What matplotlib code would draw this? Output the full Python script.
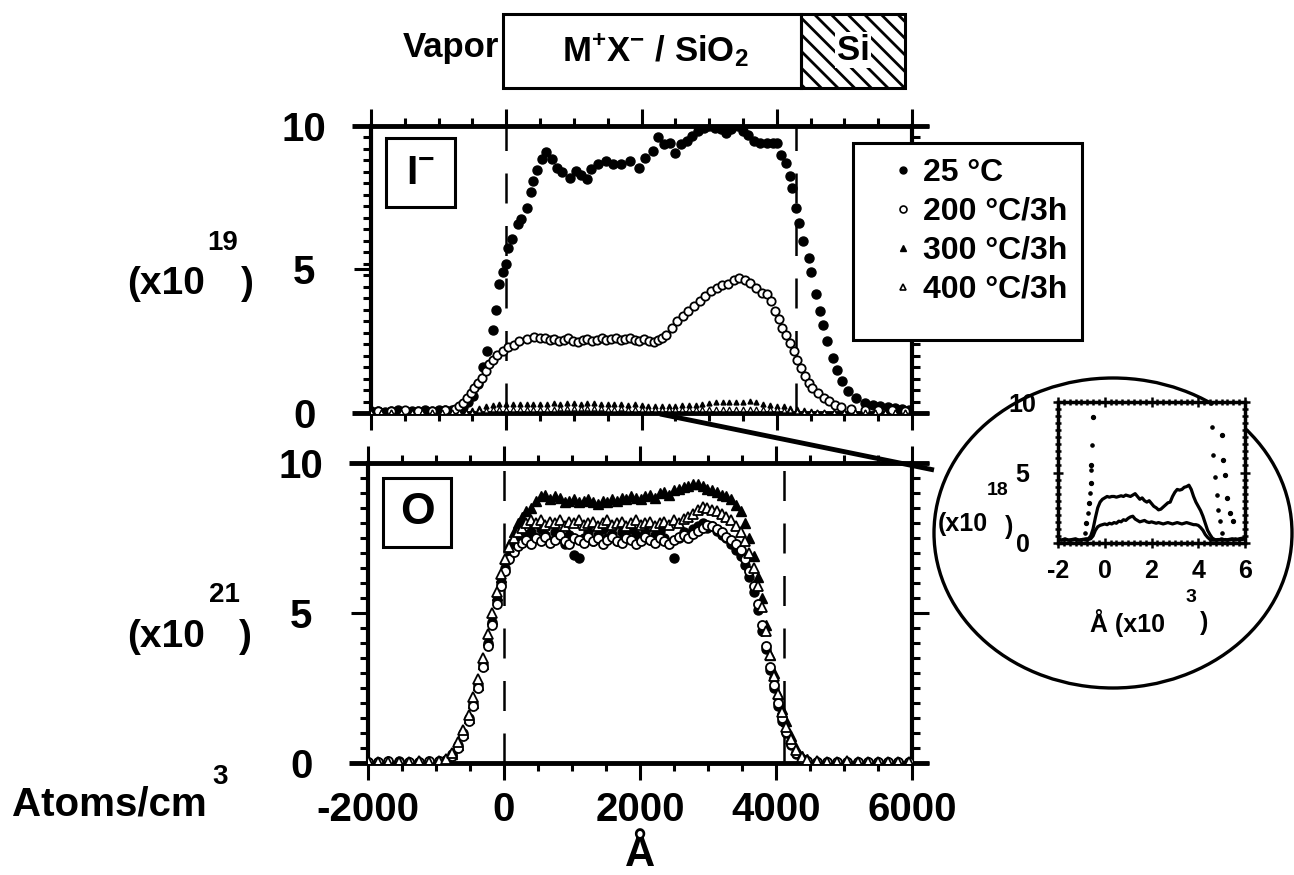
import numpy as np
import matplotlib.pyplot as plt
from matplotlib.patches import Rectangle, Ellipse
from matplotlib.lines import Line2D
from matplotlib.ticker import MultipleLocator

W, H = 1294, 875
plt.rcParams['font.family'] = ['Liberation Sans', 'DejaVu Sans']
plt.rcParams['font.weight'] = 'bold'
plt.rcParams['axes.unicode_minus'] = False
plt.rcParams['mathtext.fontset'] = 'custom'
plt.rcParams['mathtext.rm'] = 'Liberation Sans:bold'
plt.rcParams['mathtext.bf'] = 'Liberation Sans:bold'
plt.rcParams['mathtext.it'] = 'Liberation Sans:bold'
plt.rcParams['hatch.linewidth'] = 2.0

# ---- iodine profile (x10^19 atoms/cm3) vs depth (A) ----
depth_I25 = [-2000, -1900, -1800, -1700, -1600, -1500, -1400, -1300, -1200, -1100,
             -1000, -900, -800, -720, -640, -560, -490, -420, -350, -280,
             -200, -150, -110, -50, 0, 30, 80, 170, 220, 300,
             360, 400, 460, 530, 590, 670, 750, 830, 940, 1030,
             1110, 1190, 1250, 1360, 1470, 1580, 1690, 1830, 1970, 2050,
             2170, 2250, 2330, 2420, 2500, 2580, 2670, 2750, 2830, 2920,
             3000, 3080, 3170, 3250, 3330, 3420, 3500, 3580, 3670, 3750,
             3860, 3940, 4000, 4060, 4140, 4190, 4220, 4280, 4330, 4390,
             4470, 4500, 4580, 4640, 4690, 4750, 4830, 4890, 4970, 5060,
             5170, 5300, 5420, 5530, 5650, 5750, 5850, 5950]
I_25 = [0.06, 0.08, 0.05, 0.07, 0.09, 0.06, 0.08, 0.07, 0.1, 0.08,
        0.09, 0.1, 0.12, 0.16, 0.22, 0.4, 0.6, 1.0, 1.6, 2.15,
        2.9, 3.6, 4.5, 4.9, 5.2, 5.75, 6.05, 6.6, 6.75, 7.15,
        7.7, 8.1, 8.45, 8.85, 9.1, 8.85, 8.55, 8.4, 8.2, 8.43,
        8.3, 8.14, 8.5, 8.66, 8.78, 8.66, 8.66, 8.78, 8.55, 8.9,
        9.13, 9.6, 9.36, 9.4, 9.07, 9.36, 9.48, 9.65, 9.83, 9.94,
        10.0, 9.94, 9.88, 9.77, 9.88, 10.0, 9.83, 9.7, 9.48, 9.42,
        9.42, 9.42, 9.42, 9.0, 8.72, 8.26, 7.85, 7.15, 6.63, 6.0,
        5.4, 4.9, 4.13, 3.55, 3.08, 2.5, 1.92, 1.5, 1.1, 0.76,
        0.52, 0.35, 0.28, 0.23, 0.2, 0.17, 0.15, 0.12]

depth_I200 = [-1900, -1700, -1500, -1300, -1100, -900, -760, -694, -639, -583,
              -528, -472, -417, -361, -306, -250, -194, -139, -55, 28,
              111, 194, 305, 416, 500, 570, 640, 710, 780, 850,
              920, 990, 1060, 1130, 1200, 1270, 1340, 1410, 1480, 1550,
              1620, 1690, 1760, 1830, 1900, 1970, 2040, 2110, 2180, 2250,
              2305, 2361, 2444, 2528, 2611, 2694, 2778, 2861, 2944, 3028,
              3111, 3194, 3278, 3361, 3444, 3528, 3611, 3694, 3778, 3861,
              3917, 3972, 4028, 4083, 4139, 4194, 4250, 4305, 4361, 4417,
              4472, 4528, 4611, 4694, 4778, 4861, 4950, 5100, 5300, 5500,
              5700, 5900]
I_200 = [0.08, 0.06, 0.09, 0.07, 0.08, 0.1, 0.15, 0.23, 0.35, 0.52,
         0.7, 0.87, 1.05, 1.22, 1.45, 1.69, 1.86, 2.03, 2.17, 2.29,
         2.38, 2.5, 2.58, 2.64, 2.62, 2.6, 2.55, 2.58, 2.5, 2.55,
         2.6, 2.52, 2.48, 2.55, 2.58, 2.5, 2.55, 2.6, 2.55, 2.58,
         2.62, 2.55, 2.58, 2.6, 2.55, 2.52, 2.58, 2.5, 2.48, 2.55,
         2.6, 2.73, 2.97, 3.2, 3.37, 3.55, 3.72, 3.9, 4.07, 4.24,
         4.36, 4.45, 4.48, 4.65, 4.71, 4.65, 4.53, 4.36, 4.19, 4.13,
         3.9, 3.55, 3.26, 2.97, 2.73, 2.44, 2.15, 1.86, 1.57, 1.28,
         1.05, 0.87, 0.7, 0.52, 0.41, 0.29, 0.2, 0.15, 0.12, 0.1,
         0.1, 0.08]

# annealed iodine, in x10^18 (shown magnified in the circle)
depth_anneal = [-2000, -1850, -1700, -1550, -1400, -1250, -1100, -950, -800, -700,
                -600, -500, -400, -300, -200, -100, 0, 100, 200, 300,
                400, 500, 600, 700, 800, 900, 1000, 1100, 1200, 1300,
                1400, 1500, 1600, 1700, 1800, 1900, 2000, 2100, 2200, 2300,
                2400, 2500, 2600, 2700, 2800, 2900, 3000, 3100, 3200, 3300,
                3400, 3500, 3600, 3700, 3800, 3900, 4000, 4100, 4200, 4300,
                4400, 4500, 4600, 4700, 4850, 5000, 5150, 5300, 5450, 5600,
                5750, 5900]
I_300 = [0.3, 0.2, 0.3, 0.2, 0.25, 0.3, 0.2, 0.25, 0.3, 0.3,
         0.5, 1.0, 1.8, 2.5, 2.9, 3.1, 3.2, 3.3, 3.25, 3.3,
         3.3, 3.25, 3.3, 3.35, 3.3, 3.4, 3.35, 3.3, 3.4, 3.5,
         3.3, 3.1, 3.2, 3.0, 2.9, 3.0, 2.8, 2.6, 2.5, 2.35,
         2.4, 2.55, 2.7, 2.85, 2.9, 3.3, 3.6, 3.8, 3.75, 3.8,
         3.95, 4.0, 4.1, 3.8, 3.3, 2.9, 2.6, 2.3, 1.9, 1.4,
         0.9, 0.6, 0.35, 0.25, 0.2, 0.3, 0.2, 0.25, 0.3, 0.2,
         0.3, 0.35]
I_400 = [0.25, 0.2, 0.25, 0.2, 0.2, 0.25, 0.2, 0.25, 0.2, 0.25,
         0.3, 0.5, 0.9, 1.15, 1.25, 1.3, 1.35, 1.3, 1.4, 1.35,
         1.45, 1.4, 1.55, 1.5, 1.65, 1.6, 1.75, 1.85, 1.9, 1.7,
         1.6, 1.5, 1.55, 1.6, 1.5, 1.45, 1.5, 1.45, 1.4, 1.45,
         1.4, 1.35, 1.4, 1.45, 1.4, 1.35, 1.4, 1.45, 1.4, 1.35,
         1.4, 1.45, 1.4, 1.35, 1.3, 1.3, 1.25, 1.1, 0.9, 0.6,
         0.4, 0.25, 0.2, 0.2, 0.25, 0.2, 0.25, 0.2, 0.25, 0.3,
         0.2, 0.25]

# tails of the unannealed / 200 C profiles inside the magnified view (x10^3 A, x10^18)
tail25_x = [-0.5, -0.57, -0.6, -0.67, -0.79, 5.0, 5.07, 5.14, 5.21, 5.36, 5.5]
tail25_y = [8.94, 5.53, 4.24, 2.82, 1.41, 7.65, 5.88, 4.82, 3.18, 2.12, 1.53]
tail200_x = [-0.54, -0.57, -0.64, -0.71, -0.86, 4.54, 4.57, 4.64, 4.71, 4.79, 4.86, 4.93, 5.0]
tail200_y = [6.94, 5.18, 3.53, 2.12, 0.7, 9.9, 8.24, 6.24, 4.71, 3.41, 2.35, 1.53, 0.7]

# ---- oxygen profile (x10^21 atoms/cm3) ----
depth_O = [-2000, -1850, -1700, -1550, -1400, -1250, -1100, -950, -850, -760,
           -680, -600, -520, -450, -380, -310, -240, -170, -100, -40,
           20, 80, 140, 200, 260, 330, 400, 470, 540, 610,
           680, 750, 820, 890, 960, 1030, 1100, 1170, 1240, 1310,
           1380, 1450, 1520, 1590, 1660, 1730, 1800, 1870, 1940, 2010,
           2080, 2150, 2220, 2290, 2360, 2430, 2500, 2570, 2640, 2710,
           2780, 2850, 2920, 2990, 3060, 3130, 3200, 3270, 3340, 3410,
           3480, 3550, 3610, 3670, 3730, 3790, 3850, 3910, 3970, 4030,
           4090, 4150, 4220, 4300, 4380, 4450, 4600, 4750, 4900, 5050,
           5200, 5350, 5500, 5650, 5800, 5950]
O_25 = [0.05, 0.04, 0.05, 0.06, 0.04, 0.05, 0.05, 0.07, 0.1, 0.3,
        0.6, 1.0, 1.5, 2.0, 2.6, 3.3, 4.0, 4.7, 5.4, 6.0,
        6.5, 6.9, 7.2, 7.4, 7.55, 7.6, 7.7, 7.5, 7.8, 7.6,
        7.4, 7.7, 7.5, 7.3, 7.6, 6.95, 6.85, 7.5, 7.7, 7.4,
        7.6, 7.8, 7.5, 7.65, 7.4, 7.7, 7.55, 7.8, 7.6, 7.5,
        7.7, 7.45, 7.6, 7.75, 7.5, 7.35, 6.85, 7.5, 7.7, 7.6,
        7.8, 7.9, 8.0, 7.85, 7.9, 7.75, 7.6, 7.5, 7.3, 7.1,
        6.9, 6.6, 6.2, 5.7, 5.1, 4.4, 3.8, 3.1, 2.5, 1.9,
        1.4, 1.0, 0.6, 0.3, 0.15, 0.08, 0.05, 0.04, 0.05, 0.05,
        0.04, 0.05, 0.04, 0.05, 0.04, 0.05]
O_200 = [0.05, 0.04, 0.06, 0.05, 0.05, 0.04, 0.06, 0.06, 0.1, 0.25,
         0.5, 0.9, 1.4, 1.9, 2.5, 3.2, 3.9, 4.6, 5.3, 5.9,
         6.4, 6.8, 7.05, 7.25, 7.35, 7.45, 7.3, 7.5, 7.4, 7.55,
         7.35, 7.45, 7.6, 7.4, 7.3, 7.5, 7.45, 7.35, 7.55, 7.4,
         7.5, 7.3, 7.45, 7.55, 7.4, 7.35, 7.5, 7.45, 7.3, 7.4,
         7.55, 7.45, 7.35, 7.5, 7.4, 7.3, 7.45, 7.55, 7.6, 7.5,
         7.65, 7.75, 7.85, 7.95, 7.9, 7.8, 7.7, 7.55, 7.45, 7.3,
         7.1, 6.8, 6.4, 5.9, 5.3, 4.6, 3.9, 3.2, 2.6, 2.0,
         1.5, 1.05, 0.65, 0.35, 0.15, 0.08, 0.05, 0.04, 0.05, 0.04,
         0.05, 0.04, 0.05, 0.04, 0.05, 0.04]
O_300 = [0.05, 0.03, 0.06, 0.04, 0.05, 0.06, 0.05, 0.08, 0.1, 0.3,
         0.6, 1.0, 1.5, 2.0, 2.6, 3.3, 4.1, 4.8, 5.6, 6.2,
         6.8, 7.3, 7.7, 8.0, 8.2, 8.4, 8.5, 8.75, 8.9, 8.95,
         8.8, 8.9, 8.85, 8.7, 8.75, 8.8, 8.7, 8.75, 8.8, 8.7,
         8.65, 8.75, 8.7, 8.8, 8.75, 8.85, 8.8, 8.9, 8.85, 8.8,
         8.9, 8.95, 8.85, 9.0, 9.05, 8.95, 9.1, 9.15, 9.2, 9.25,
         9.3, 9.3, 9.25, 9.15, 9.1, 9.05, 8.95, 8.9, 8.8, 8.6,
         8.4, 8.0, 7.5, 6.9, 6.2, 5.5, 4.6, 3.6, 3.0, 2.3,
         1.8, 1.4, 0.9, 0.5, 0.25, 0.12, 0.06, 0.05, 0.04, 0.05,
         0.04, 0.05, 0.03, 0.05, 0.04, 0.05]
O_400 = [0.06, 0.04, 0.05, 0.05, 0.04, 0.06, 0.05, 0.07, 0.12, 0.35,
         0.7, 1.1, 1.6, 2.2, 2.8, 3.5, 4.3, 5.0, 5.7, 6.3,
         6.8, 7.2, 7.5, 7.7, 7.85, 8.0, 8.1, 8.0, 8.1, 7.95,
         8.05, 8.0, 8.1, 7.9, 8.05, 8.0, 8.1, 7.95, 8.0, 8.05,
         7.9, 8.0, 8.1, 7.95, 8.0, 8.05, 7.9, 8.0, 8.1, 7.95,
         8.0, 8.05, 7.9, 8.0, 8.05, 7.95, 8.1, 8.0, 8.15, 8.2,
         8.3, 8.45, 8.55, 8.5, 8.45, 8.4, 8.3, 8.2, 8.1, 7.9,
         7.7, 7.4, 7.0, 6.5, 5.9, 5.2, 4.4, 3.6, 2.9, 2.3,
         1.7, 1.2, 0.8, 0.45, 0.2, 0.1, 0.06, 0.05, 0.04, 0.06,
         0.05, 0.04, 0.05, 0.04, 0.05, 0.04]

labels = ['25 °C', '200 °C/3h', '300 °C/3h', '400 °C/3h']
interfaces_I = [0, 4280]
interfaces_O = [0, 4120]


def box(x0, y0, x1, y1):
    # pixel box (top-left origin) -> figure fraction rect
    return [x0 / W, 1 - y1 / H, (x1 - x0) / W, (y1 - y0) / H]


def fx(x):
    return x / W


def fy(y):
    return 1 - y / H


fig = plt.figure(figsize=(W / 100, H / 100), dpi=100)


def style(ax, yminor):
    ax.set_xlim(-2000, 6000)
    ax.set_ylim(0, 10)
    ax.spines['top'].set_visible(False)
    ax.spines['bottom'].set_visible(False)
    ax.spines['left'].set_linewidth(3)
    ax.spines['right'].set_linewidth(3)
    for yv in (0, 10):
        ax.plot([-2280, 6250], [yv, yv], color='k', lw=3.5, clip_on=False,
                solid_capstyle='butt', zorder=3)
    ax.xaxis.set_major_locator(MultipleLocator(2000))
    ax.xaxis.set_minor_locator(MultipleLocator(500))
    ax.set_yticks([0, 5, 10])
    ax.set_yticklabels(['0', '5', '10'], ha='center')
    ax.yaxis.set_minor_locator(MultipleLocator(yminor))
    ax.tick_params(which='both', direction='out', top=True, right=True, width=2.2)
    ax.tick_params(which='major', length=12)
    ax.tick_params(which='minor', length=6)
    ax.tick_params(axis='y', labelsize=29, pad=36)
    ax.tick_params(axis='x', labelsize=29, pad=8)


# ---- top panel: iodine ----
ax1 = fig.add_axes(box(371, 126, 912, 413))
style(ax1, 0.4)
ax1.tick_params(labelbottom=False)
for xv in interfaces_I:
    ax1.plot([xv, xv], [0, 10], color='k', lw=1.8, ls=(0, (12, 9)), zorder=1)
ax1.plot(depth_I25, I_25, 'o', color='k', ms=6.5, zorder=4)
ax1.plot(depth_I200, I_200, 'o', mfc='white', mec='k', mew=1.3, ms=6, zorder=4)
ax1.plot(depth_anneal, np.array(I_300) / 10, '^', color='k', ms=3.5, zorder=4)
ax1.plot(depth_anneal, np.array(I_400) / 10, '^', mfc='white', mec='k', mew=0.9,
         ms=3.5, zorder=4)

# panel tag
ax1.add_patch(Rectangle((fx(386), fy(207)), (455 - 386) / W, (207 - 138) / H,
                        transform=fig.transFigure, fill=False, lw=2.2, clip_on=False))
ax1.text(fx(420), fy(173), 'I$^{-}$', transform=fig.transFigure, fontsize=29,
         ha='center', va='center')

# legend
ax1.add_patch(Rectangle((fx(853), fy(340)), (1082 - 853) / W, (340 - 143) / H,
                        transform=fig.transFigure, facecolor='white', edgecolor='k',
                        lw=2.2, clip_on=False, zorder=4))
handles = [Line2D([], [], ls='none', marker='o', color='k', ms=5),
           Line2D([], [], ls='none', marker='o', mfc='white', mec='k', mew=1.2, ms=5),
           Line2D([], [], ls='none', marker='^', color='k', ms=5),
           Line2D([], [], ls='none', marker='^', mfc='white', mec='k', mew=1.2, ms=5)]
leg = ax1.legend(handles, labels, loc='upper left', bbox_to_anchor=(fx(893), fy(158)),
                 bbox_transform=fig.transFigure, frameon=False, fontsize=23,
                 handlelength=0.6, handletextpad=0.35, labelspacing=0.28,
                 borderpad=0, borderaxespad=0)
leg.set_zorder(5)

# ---- bottom panel: oxygen ----
ax2 = fig.add_axes(box(368, 463, 912, 763))
style(ax2, 0.5)
for xv in interfaces_O:
    ax2.plot([xv, xv], [0, 10], color='k', lw=1.8, ls=(0, (12, 9)), zorder=1)
ax2.plot(depth_O, O_300, '^', color='k', ms=7.5, zorder=4)
ax2.plot(depth_O, O_25, 'o', color='k', ms=6.5, zorder=4)
ax2.plot(depth_O, O_200, 'o', mfc='white', mec='k', mew=1.3, ms=6.5, zorder=4)
ax2.plot(depth_O, O_400, '^', mfc='white', mec='k', mew=1.3, ms=7.5, zorder=4)
ax2.set_xticks([-2000, 0, 2000, 4000, 6000])
ax2.add_patch(Rectangle((fx(383), fy(547)), (451 - 383) / W, (547 - 478) / H,
                        transform=fig.transFigure, fill=False, lw=2.2, clip_on=False))
ax2.text(fx(417), fy(513), 'O', transform=fig.transFigure, fontsize=32,
         ha='center', va='center')

# ---- magnified view of the annealed profiles ----
fig.add_artist(Ellipse((fx(1113), fy(533)), 358 / W, 310 / H, transform=fig.transFigure,
                       fill=False, lw=2.4, zorder=-1))
fig.add_artist(Line2D([fx(660), fx(934)], [fy(414), fy(470)], transform=fig.transFigure,
                      color='k', lw=3.5, solid_capstyle='butt'))

axi = fig.add_axes(box(1058, 402, 1245, 543))
axi.set_xlim(-2, 6)
axi.set_ylim(0, 10)
for s in axi.spines.values():
    s.set_linewidth(2.5)
axi.plot(np.array(depth_anneal) / 1000, I_300, color='k', lw=2.3)
axi.plot(np.array(depth_anneal) / 1000, I_400, color='k', lw=2.3)
axi.plot(tail25_x, tail25_y, 'o', color='k', ms=2.8)
axi.plot(tail200_x, tail200_y, 'o', color='k', ms=2.3)
axi.set_xticks([-2, 0, 2, 4, 6])
axi.set_yticks([0, 5, 10])
axi.set_yticklabels(['0', '5', '10'], ha='center')
axi.xaxis.set_minor_locator(MultipleLocator(0.25))
axi.yaxis.set_minor_locator(MultipleLocator(0.5))
axi.tick_params(which='both', direction='inout', top=True, right=True, width=1.8)
axi.tick_params(which='major', length=7)
axi.tick_params(which='minor', length=4)
axi.tick_params(axis='x', labelsize=18, pad=8)
axi.tick_params(axis='y', labelsize=18, pad=22)

fig.text(fx(938), fy(524), '(x10', fontsize=18, ha='left', va='center')
fig.text(fx(987), fy(490), '18', fontsize=14, ha='left', va='center')
fig.text(fx(1005), fy(527), ')', fontsize=18, ha='left', va='center')
fig.text(fx(1090), fy(623), 'Å (x10', fontsize=18, ha='left', va='center')
fig.text(fx(1186), fy(597), '3', fontsize=14, ha='left', va='center')
fig.text(fx(1200), fy(623), ')', fontsize=18, ha='left', va='center')

# ---- axis annotations ----
fig.text(fx(127), fy(284), '(x10', fontsize=28, ha='left', va='center')
fig.text(fx(207), fy(243), '19', fontsize=20, ha='left', va='center')
fig.text(fx(241), fy(284), ')', fontsize=28, ha='left', va='center')
fig.text(fx(127), fy(637), '(x10', fontsize=28, ha='left', va='center')
fig.text(fx(209), fy(595), '21', fontsize=20, ha='left', va='center')
fig.text(fx(239), fy(637), ')', fontsize=28, ha='left', va='center')
fig.text(fx(12), fy(804), 'Atoms/cm', fontsize=29, ha='left', va='center')
fig.text(fx(212), fy(777), '3', fontsize=20, ha='left', va='center')
fig.text(fx(640), fy(855), 'Å', fontsize=30, ha='center', va='center')

# ---- sample structure sketch ----
fig.text(fx(451), fy(47), 'Vapor', fontsize=25, ha='center', va='center')
fig.add_artist(Rectangle((fx(503), fy(88)), (801 - 503) / W, (88 - 14) / H,
                         transform=fig.transFigure, fill=False, lw=2.2))
fig.add_artist(Rectangle((fx(801), fy(88)), (905 - 801) / W, (88 - 14) / H,
                         transform=fig.transFigure, fill=False, lw=2.2, hatch='\\\\'))
fig.text(fx(655), fy(50), 'M$^{+}$X$^{-}$ / SiO$_{2}$', fontsize=25, ha='center', va='center')
fig.text(fx(853), fy(50), 'Si', fontsize=25, ha='center', va='center',
         bbox=dict(facecolor='white', edgecolor='none', pad=1))

fig.savefig('out.png', dpi=100)
